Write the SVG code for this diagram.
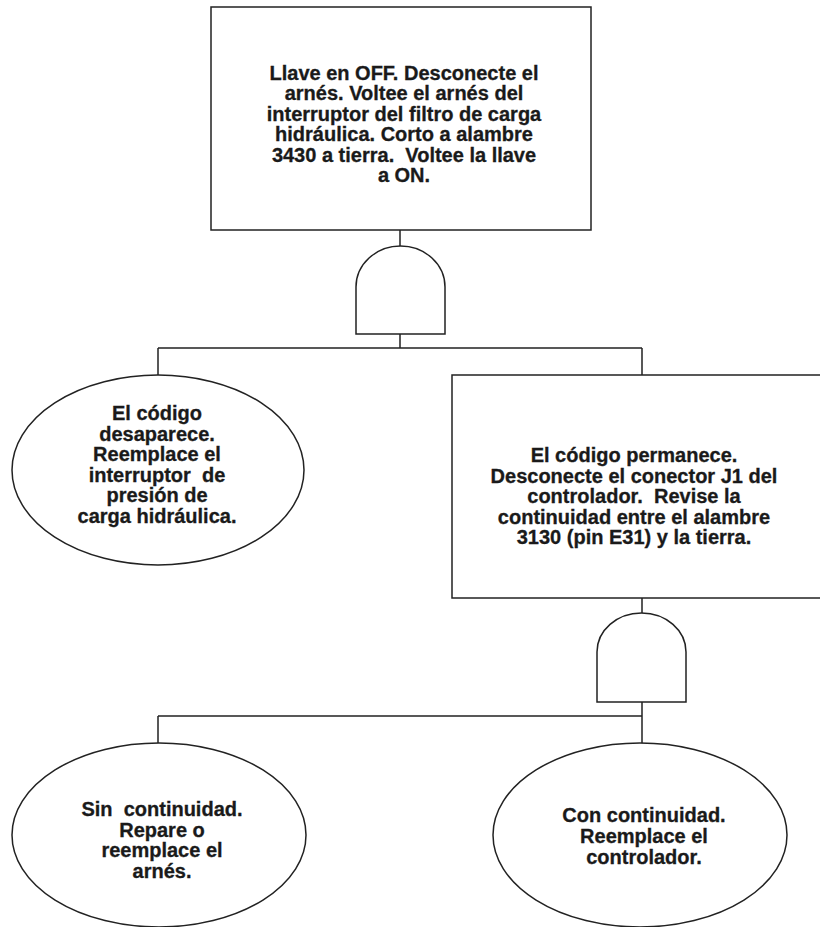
<svg xmlns="http://www.w3.org/2000/svg" width="820" height="927" viewBox="0 0 820 927">
<style>
.shape{fill:#fff;stroke:#222;stroke-width:1.5}
.wire{fill:none;stroke:#222;stroke-width:1.5}
.t{font-family:"Liberation Sans",Arial,sans-serif;font-weight:bold;font-size:20px;fill:#1a1a1a;stroke:#1a1a1a;stroke-width:0.3;text-anchor:middle;white-space:pre}
</style>
<rect width="820" height="927" fill="#fff"/>
<g id="connectors">
<path class="wire" d="M400,230V246M400,334V348M158,348H642M158,348V375M642,348V375"/>
<path class="wire" d="M642,598V613M642,702V716M158,716H642M158,716V743M642,716V743"/>
</g>
<g id="n_top">
<rect class="shape" x="211" y="7" width="380" height="223"/>
<text class="t" xml:space="preserve"><tspan x="404" y="80">Llave en OFF. Desconecte el</tspan><tspan x="404" y="100.4">arnés. Voltee el arnés del</tspan><tspan x="404" y="120.8">interruptor del filtro de carga</tspan><tspan x="404" y="141.2">hidráulica. Corto a alambre</tspan><tspan x="404" y="161.6">3430 a tierra.  Voltee la llave</tspan><tspan x="404" y="182">a ON.</tspan></text>
</g>
<g id="gate1">
<path class="shape" d="M356,334V287A44.5,41 0 0 1 445,287V334Z"/>
</g>
<g id="n_left1">
<ellipse class="shape" cx="158" cy="470" rx="146" ry="95"/>
<text class="t" xml:space="preserve"><tspan x="157" y="420">El código</tspan><tspan x="157" y="440.6">desaparece.</tspan><tspan x="157" y="461.2">Reemplace el</tspan><tspan x="157" y="481.8">interruptor  de</tspan><tspan x="157" y="502.4">presión de</tspan><tspan x="157" y="523">carga hidráulica.</tspan></text>
</g>
<g id="n_right1">
<rect class="shape" x="452" y="375" width="380" height="223"/>
<text class="t" xml:space="preserve"><tspan x="634" y="462">El código permanece.</tspan><tspan x="634" y="482.5">Desconecte el conector J1 del</tspan><tspan x="634" y="503">controlador.  Revise la</tspan><tspan x="634" y="523.5">continuidad entre el alambre</tspan><tspan x="634" y="544">3130 (pin E31) y la tierra.</tspan></text>
</g>
<g id="gate2">
<path class="shape" d="M597,702V652A44.5,39 0 0 1 686,652V702Z"/>
</g>
<g id="n_left2">
<ellipse class="shape" cx="159" cy="835" rx="147" ry="92"/>
<text class="t" xml:space="preserve"><tspan x="162" y="816">Sin  continuidad.</tspan><tspan x="162" y="836.6">Repare o</tspan><tspan x="162" y="857.2">reemplace el</tspan><tspan x="162" y="877.8">arnés.</tspan></text>
</g>
<g id="n_right2">
<ellipse class="shape" cx="640" cy="835" rx="147" ry="92"/>
<text class="t" xml:space="preserve"><tspan x="644" y="822.4">Con continuidad.</tspan><tspan x="644" y="843">Reemplace el</tspan><tspan x="644" y="863.6">controlador.</tspan></text>
</g>
</svg>
